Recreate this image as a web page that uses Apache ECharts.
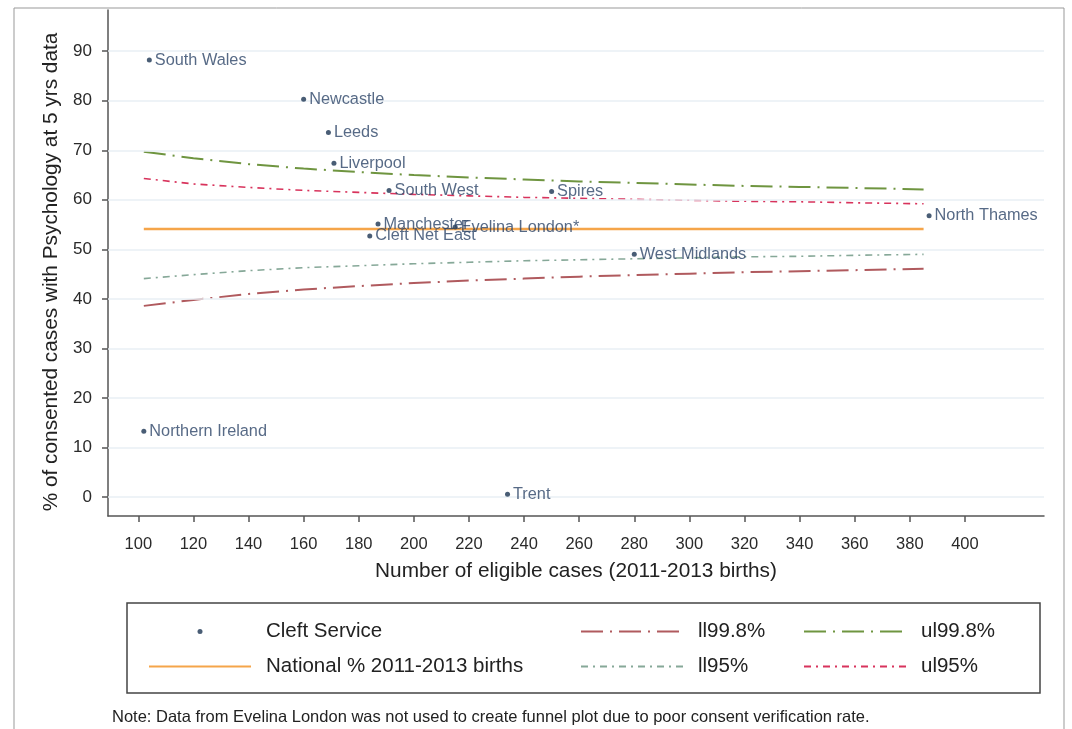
<!DOCTYPE html>
<html><head><meta charset="utf-8">
<script src="https://cdn.jsdelivr.net/npm/echarts@6/dist/echarts.min.js"></script>
<style>html,body{margin:0;padding:0;background:#fff}#c{width:1072px;height:729px}</style>
</head><body><div id="c"></div>
<script>
const services = ['South Wales','Newcastle','Leeds','Liverpool','South West','Manchester','Cleft Net East','Evelina London*','Spires','North Thames','West Midlands','Northern Ireland','Trent'];
const cases = [104,160,169,171,191,187,184,215,250,387,280,102,234];
const pct = [88.2,80.3,73.6,67.4,61.9,55.1,52.7,54.5,61.7,56.8,49.0,13.3,0.6];

const nationalX = [102,385];
const nationalPct = [54.1,54.1];

const limitX = [102,120,140,160,180,200,220,240,260,280,300,320,340,360,385];
const ul998 = [69.7,68.4,67.2,66.3,65.6,65.0,64.5,64.1,63.7,63.4,63.1,62.8,62.6,62.4,62.1];
const ul95  = [64.3,63.2,62.5,61.9,61.5,61.1,60.8,60.5,60.3,60.1,59.9,59.7,59.6,59.4,59.2];
const ll95  = [44.1,44.9,45.7,46.3,46.7,47.1,47.4,47.7,47.9,48.1,48.3,48.5,48.6,48.8,49.0];
const ll998 = [38.6,39.8,41.0,41.9,42.6,43.2,43.7,44.1,44.5,44.8,45.1,45.4,45.6,45.8,46.1];

const xTicks = [100,120,140,160,180,200,220,240,260,280,300,320,340,360,380,400];
const yTicks = [0,10,20,30,40,50,60,70,80,90];

const pair = (xs, ys) => xs.map((x,i)=>[x,ys[i]]);
const font = 'Liberation Sans, Arial, sans-serif';
const hideSym = {opacity:0};
const legText = {fontSize:20.5, color:'#222', fontFamily:font, padding:[0,0,0,10]};

const chart = echarts.init(document.getElementById('c'));
chart.setOption({
  animation:false,
  backgroundColor:'#fff',
  textStyle:{fontFamily:font},
  title:[{
    text:'Note: Data from Evelina London was not used to create funnel plot due to poor consent verification rate.',
    left:107, top:704,
    textStyle:{fontSize:16.5, fontWeight:'normal', color:'#222', fontFamily:font}
  }],
  graphic:[
    {type:'rect', shape:{x:14,y:8,width:1050,height:760}, style:{fill:'none', stroke:'#999', lineWidth:1}, silent:true},
    {type:'rect', shape:{x:127,y:603,width:913,height:90}, style:{fill:'none', stroke:'#444', lineWidth:1.5}, silent:true}
  ],
  grid:{left:108, right:28, top:10, bottom:213},
  xAxis:{
    type:'value', min:89, max:428.7,
    name:'Number of eligible cases (2011-2013 births)', nameLocation:'middle', nameGap:45,
    nameTextStyle:{fontSize:20.8, color:'#222', fontFamily:font},
    axisLine:{onZero:false, lineStyle:{color:'#555', width:1.5}},
    axisTick:{customValues:xTicks, length:6, lineStyle:{color:'#555', width:1.5}},
    axisLabel:{customValues:xTicks, fontSize:16.5, color:'#2a2a2a', margin:20, fontFamily:font},
    splitLine:{show:false}
  },
  yAxis:{
    type:'value', min:-3.8, max:98.3,
    name:'% of consented cases with Psychology at 5 yrs data', nameLocation:'middle', nameGap:38,
    nameTextStyle:{fontSize:20.8, color:'#222', fontFamily:font, padding:[0,18,0,0]},
    axisLine:{show:true, lineStyle:{color:'#555', width:1.5}},
    axisTick:{show:true, customValues:yTicks, length:6, lineStyle:{color:'#555', width:1.5}},
    axisLabel:{customValues:yTicks, fontSize:17, color:'#2a2a2a', margin:16, fontFamily:font},
    splitLine:{show:false}
  },
  legend:[
    {orient:'vertical', left:143, top:616, itemWidth:102, itemHeight:5, itemGap:14, textStyle:legText,
     data:[{name:'Cleft Service', icon:'circle'}, {name:'National % 2011-2013 births', itemStyle:hideSym}]},
    {orient:'vertical', left:575, top:616, itemWidth:102, itemHeight:5, itemGap:14, textStyle:legText,
     data:[{name:'ll99.8%', itemStyle:hideSym},{name:'ll95%', itemStyle:hideSym}]},
    {orient:'vertical', left:798, top:616, itemWidth:102, itemHeight:5, itemGap:14, textStyle:legText,
     data:[{name:'ul99.8%', itemStyle:hideSym},{name:'ul95%', itemStyle:hideSym}]}
  ],
  series:[
    {name:'gridlines', type:'line', data:[], silent:true,
     markLine:{silent:true, symbol:'none', label:{show:false}, animation:false,
       lineStyle:{color:'#e8eff5', type:'solid', width:1.5},
       data:yTicks.map(v=>({yAxis:v}))}},
    {name:'National % 2011-2013 births', type:'line', data:pair(nationalX,nationalPct), symbol:'none', z:3,
     lineStyle:{color:'#f5a54a', width:2.5}, itemStyle:{color:'#f5a54a'}},
    {name:'ll99.8%', type:'line', data:pair(limitX,ll998), symbol:'none',
     lineStyle:{color:'#b05a5e', width:2, type:[22,7,2,7]}, itemStyle:{color:'#b05a5e'}},
    {name:'ul99.8%', type:'line', data:pair(limitX,ul998), symbol:'none',
     lineStyle:{color:'#6f9540', width:2, type:[22,7,2,7]}, itemStyle:{color:'#6f9540'}},
    {name:'ll95%', type:'line', data:pair(limitX,ll95), symbol:'none',
     lineStyle:{color:'#86a898', width:1.6, type:[7,5,2,5]}, itemStyle:{color:'#86a898'}},
    {name:'ul95%', type:'line', data:pair(limitX,ul95), symbol:'none',
     lineStyle:{color:'#d8335c', width:1.6, type:[7,5,2,5]}, itemStyle:{color:'#d8335c'}},
    {name:'Cleft Service', type:'scatter', z:5, symbol:'circle', symbolSize:5,
     itemStyle:{color:'#1b3553'},
     data:cases.map((x,i)=>({value:[x,pct[i]], name:services[i]})),
     label:{show:true, position:'right', distance:3, formatter:p=>p.name,
       fontSize:16.3, color:'#2d4568', fontFamily:font}}
  ]
});
</script></body></html>
